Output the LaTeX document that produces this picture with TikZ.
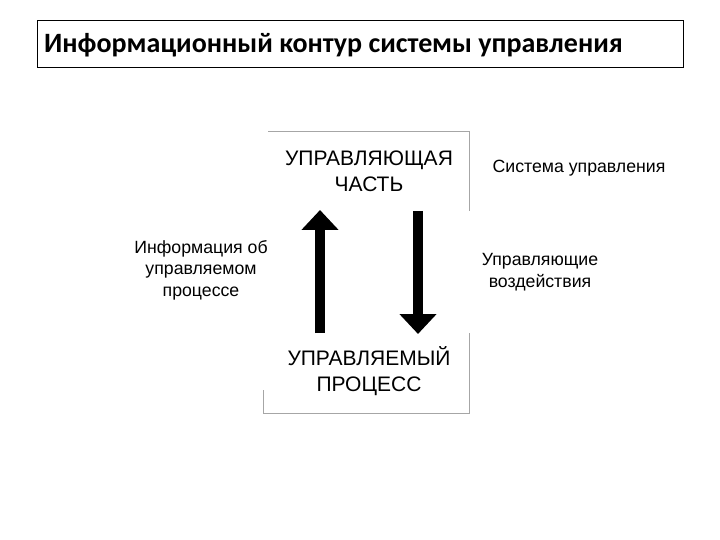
\documentclass[tikz,border=0pt]{standalone}
\usetikzlibrary{arrows.meta}
\usepackage{fontspec}
\setmainfont{Liberation Sans}
\newfontfamily\titlefont{Carlito}
\begin{document}
\begin{tikzpicture}[x=1pt,y=-1pt,
  lbl/.style={align=center,font=\fontsize{17.7}{21.5}\selectfont,inner sep=0},
  big/.style={align=center,font=\fontsize{21}{26}\selectfont,inner sep=0},
  frame/.style={draw=gray!70,line width=0.8pt},
  fat/.style={line width=10pt,-{Triangle[width=36pt,length=20pt]}}]
\useasboundingbox (0,0) rectangle (720,540);
\node[draw,line width=0.8pt,minimum width=646,minimum height=47,anchor=north west,inner sep=0] (title) at (37,20) {};
\node[anchor=west,inner sep=0,font=\titlefont\bfseries\fontsize{28}{32}\selectfont] (tt) at (44,45) {Информационный контур системы управления};
\draw[frame] (268,131) -- (469,131) -- (469,211);
\draw[frame] (469,333) -- (469,413) -- (263,413) -- (263,390);
\node[big] (top) at (369,171) {УПРАВЛЯЮЩАЯ\\ЧАСТЬ};
\node[big] (bot) at (369,371) {УПРАВЛЯЕМЫЙ\\ПРОЦЕСС};
\coordinate (u1) at (320,333); \coordinate (u2) at (320,210);
\coordinate (d1) at (418,211); \coordinate (d2) at (418,334);
\draw[fat] (u1) -- (u2);
\draw[fat] (d1) -- (d2);
\node[lbl] (l) at (201,270) {Информация об\\управляемом\\процессе};
\node[lbl] (r1) at (579,168) {Система управления};
\node[lbl] (r2) at (540,272) {Управляющие\\воздействия};
\end{tikzpicture}
\end{document}
